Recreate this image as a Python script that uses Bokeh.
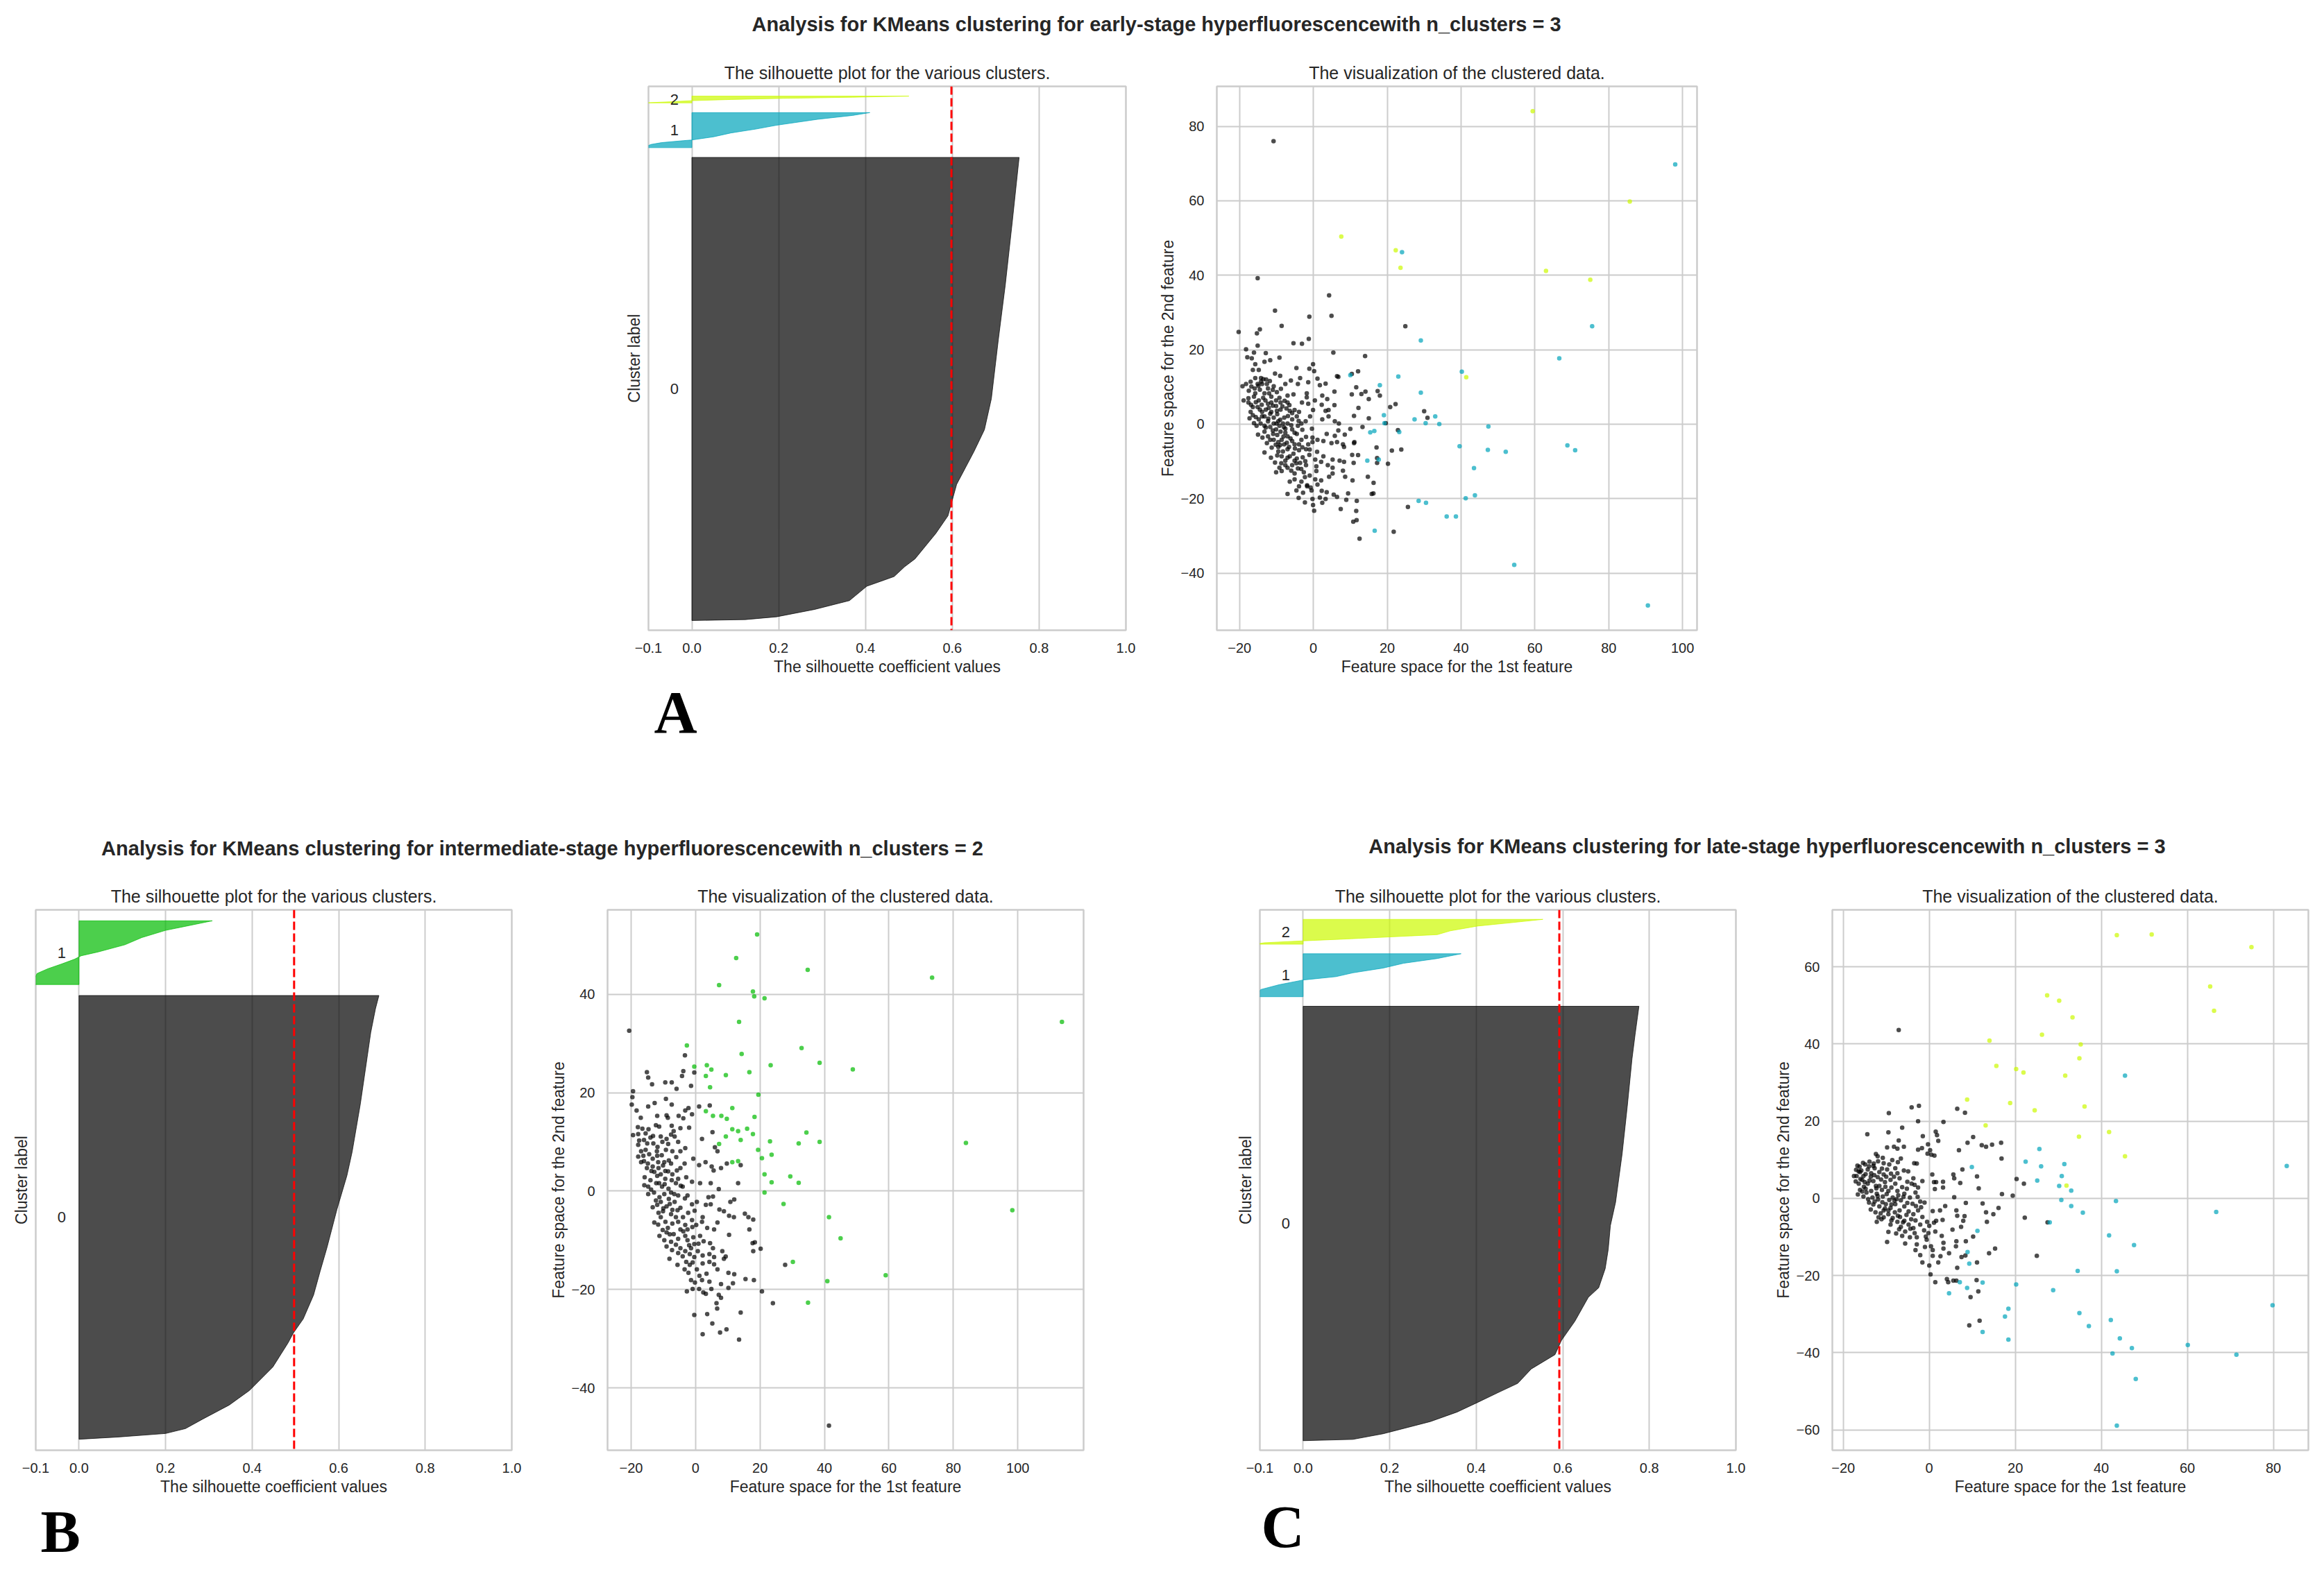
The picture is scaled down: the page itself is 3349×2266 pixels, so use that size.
from bokeh.plotting import figure
from bokeh.models import Range1d, FixedTicker, Label, Span, Spacer, CustomJSTickFormatter, Title
from bokeh.layouts import row, column
from bokeh.embed import file_html
from bokeh.resources import INLINE
from bokeh.core.properties import value

FONT = "Liberation Sans"
SERIF = "Liberation Serif"
TXT = "#262626"
GRID = "#cccccc"

SUPTITLE_A = "Analysis for KMeans clustering for early-stage hyperfluorescencewith n_clusters = 3"
SUPTITLE_B = "Analysis for KMeans clustering for intermediate-stage hyperfluorescencewith n_clusters = 2"
SUPTITLE_C = "Analysis for KMeans clustering for late-stage hyperfluorescencewith n_clusters = 3"
SUB_SIL = "The silhouette plot for the various clusters."
SUB_SC = "The visualization of the clustered data."
XLAB_SIL = "The silhouette coefficient values"
YLAB_SIL = "Cluster label"
XLAB_SC = "Feature space for the 1st feature"
YLAB_SC = "Feature space for the 2nd feature"
PANEL_LETTERS = ["A", "B", "C"]

# cluster colours (nipy_spectral)
COL3 = ["#000000", "#00a4bb", "#ccf900"]
COL2 = ["#000000", "#00bb00"]

SIL_TICKS = [-0.1, 0.0, 0.2, 0.4, 0.6, 0.8, 1.0]

# ---------------- silhouette data (rank fraction within cluster, value) -------------
sil_a_sizes = [476, 36, 7]
sil_a_avg = 0.598
sil_a0_rank = [0, 0.002, 0.008, 0.024, 0.043, 0.074, 0.095, 0.116, 0.133, 0.188, 0.226, 0.294, 0.365, 0.412, 0.479, 0.606, 0.724, 0.859, 1.0]
sil_a0_val = [0.0, 0.123, 0.195, 0.283, 0.363, 0.403, 0.466, 0.49, 0.514, 0.562, 0.59, 0.61, 0.65, 0.674, 0.69, 0.706, 0.722, 0.738, 0.754]
sil_a1_rank = [0, 0.09, 0.144, 0.2, 0.22, 0.31, 0.42, 0.53, 0.64, 0.81, 0.92, 1.0]
sil_a1_val = [-0.11, -0.095, -0.07, -0.02, 0.0, 0.05, 0.09, 0.147, 0.195, 0.29, 0.37, 0.41]
sil_a2_rank = [0, 0.17, 0.33, 0.5, 0.67, 0.83, 1.0]
sil_a2_val = [-0.11, -0.05, 0.0, 0.09, 0.21, 0.37, 0.50]

sil_b_sizes = [404, 58]
sil_b_avg = 0.497
sil_b0_rank = [0, 0.005, 0.013, 0.024, 0.045, 0.077, 0.11, 0.163, 0.217, 0.239, 0.271, 0.325, 0.378, 0.432, 0.518, 0.594, 0.647, 0.755, 0.862, 0.916, 0.97, 1.0]
sil_b0_val = [0.0, 0.09, 0.20, 0.246, 0.285, 0.347, 0.394, 0.448, 0.483, 0.495, 0.518, 0.542, 0.557, 0.573, 0.596, 0.619, 0.631, 0.65, 0.666, 0.674, 0.685, 0.693]
sil_b1_rank = [0, 0.173, 0.248, 0.323, 0.398, 0.451, 0.511, 0.624, 0.737, 0.85, 0.925, 1.0]
sil_b1_val = [-0.11, -0.097, -0.072, -0.04, -0.01, 0.005, 0.044, 0.106, 0.145, 0.2, 0.254, 0.308]

sil_c_sizes = [455, 45, 26]
sil_c_avg = 0.592
sil_c0_rank = [0, 0.003, 0.016, 0.044, 0.066, 0.088, 0.11, 0.132, 0.165, 0.198, 0.231, 0.275, 0.33, 0.352, 0.396, 0.44, 0.495, 0.549, 0.659, 0.769, 0.879, 0.934, 1.0]
sil_c0_val = [0.0, 0.115, 0.185, 0.294, 0.356, 0.403, 0.449, 0.496, 0.527, 0.582, 0.597, 0.628, 0.659, 0.683, 0.698, 0.705, 0.71, 0.722, 0.737, 0.749, 0.76, 0.767, 0.776]
sil_c1_rank = [0, 0.167, 0.278, 0.389, 0.467, 0.556, 0.667, 0.778, 0.889, 1.0]
sil_c1_val = [-0.11, -0.098, -0.056, 0.0, 0.076, 0.115, 0.185, 0.232, 0.31, 0.365]
sil_c2_rank = [0, 0.058, 0.135, 0.192, 0.288, 0.385, 0.538, 0.731, 0.865, 1.0]
sil_c2_val = [-0.11, -0.09, 0.0, 0.076, 0.193, 0.31, 0.34, 0.403, 0.48, 0.554]

# ---------------- scatter data -------------
a_black = [
(-15.1,39.2),(4.25,34.6),(-10.4,30.5),(-1.1,28.9),(4.9,29.1),(-8.6,26.4),(-20.25,24.8),(-14.5,25.5),(-15.3,24.4),(24.9,26.3),
(-1.25,22.9),(-5.4,21.75),(-3.1,21.6),(-15.1,21.1),(-18.25,20.1),(-16.1,19.25),(-12.9,19.1),(-9.2,17.9),(-17.9,18),(-16.7,17.7),
(-13.25,16.75),(-11.7,17.2),(-15.75,16.1),(5.4,19.25),(14,18.3),(-16.4,14.6),(-14.8,14.6),(-4.6,15.1),(-1.1,14.9),(-0.1,16.1),
(0.2,14.25),(-10.4,13.6),(-9,13),(-15.75,12.4),(-13.6,12.1),(-3.6,12.4),(1.1,12.25),(6.4,12.9),(6.75,12.7),(12.1,14.2),
(10.4,13.5),(-19.2,10.2),(-18.25,10.8),(-17,11.4),(-14.2,11.4),(-12.6,10.8),(-10.75,10.2),(-7.6,10.8),(-6.1,11.75),(-4.2,10.8),
(-1.4,11.25),(1.75,10.5),(3.3,10.9),(11.6,9.9),(14.1,8.75),(17.4,8.9),(18,7.7),
(-18.9,6.4),(-17.6,5.8),(-16.1,7.4),(-14.8,6.4),(-13.25,8.3),(-11.4,7.4),(-9.2,7.1),(-7,7.7),(-5.4,8),(-1.8,8.3),(-1.8,7.2),
(0.4,6.4),(2.4,7.7),(3.75,6.75),(5.7,8.75),(10.4,8),(13,8.1),(15,6.75),
(-16.4,4.6),(-14.5,3.9),(-12.3,5.5),(-10.1,4.9),(-8.9,5.8),(-7.3,4.25),(-6.4,3.6),(-5.1,3.8),(-3.1,5.8),(-1.4,5.5),(-0.1,3.8),
(2.25,5.2),(3.3,3.6),(4.1,3.8),(5.7,5.1),(12.2,4.4),(20.8,4.6),(22.25,5.4),(30,3.5),(30.9,1.7),(19.6,0.3),
(-16.4,2.4),(-16.1,0.3),(-14.8,1.3),(-13.25,2.1),(-11.7,2.8),(-10.75,1.75),(-9.5,0.8),(-7.9,1.75),(-5.75,1.3),(-4.5,2.1),
(-3.25,0.2),(-2.1,0.8),(-0.9,2.1),(2.4,1.3),(4.1,2.1),(5.8,0.8),(6.9,0.2),(11,2.25),(15,1.6),(13.3,-0.75),
(-15,-2.8),(-13.25,-2),(-12.3,-3.25),(-11,-1.7),(-9.8,-2.9),(-8.6,-4.2),(-7.6,-1.2),(-7,-3.25),(-5.75,-4.5),(-4.5,-2.6),
(-3.25,-4.2),(-0.4,-1.2),(-0.25,-3.6),(-0.25,-4.8),(1.1,-4.2),(2.7,-4.5),(3.6,-2.6),(4.9,-5.1),(5.8,-3.1),(6.4,-4.8),
(6.75,-1.7),(8.5,-2.8),(8,-5.4),(10,-1.25),(11,-5.1),(11.1,-4.8),(8.3,-6.1),(22.9,-1.6),(17.1,-6.25),(21.25,-7.1),(23.8,-6.8),
(-13.25,-7.6),(-11.5,-9),(-10.4,-10.3),(-9.5,-7.3),(-8.6,-8.6),(-7.6,-9.8),(-7,-6.7),(-5.4,-7.9),(-5.1,-9.8),(-3.9,-7),
(-2.9,-8.9),(-2,-11),(-1.1,-8.25),(0.5,-9.5),(2.1,-10.1),(2.7,-8.6),(3.9,-11),(5.2,-9.5),(5.2,-11.7),(7.1,-9.8),
(8.3,-10.1),(10.5,-8.25),(12.1,-8.3),(10.9,-10.4),(17.25,-9.1),(17.25,-10.4),(20.2,-10.6),
(-10.1,-12.9),(-8.6,-12.6),(-7,-11.7),(-6.4,-15.4),(-5.1,-14.8),(-3.9,-16.7),(-2.3,-14.2),(-1.7,-16.4),(-0.75,-17),(0.5,-14.8),
(0.8,-12.6),(2.1,-15.1),(2.25,-17.9),(4.25,-14.1),(5.2,-13.25),(3.6,-18.25),(5.5,-18.9),(6.4,-19.5),(-7,-18.75),(-4,-19.8),
(-2.3,-21),(-0.25,-20.1),(-0.1,-21.7),(0.2,-23.25),(1.75,-19.7),(2.4,-21.1),(3.3,-20.1),(7.4,-22.8),(8.9,-20.3),(9.4,-18.6),
(8.6,-14.1),(10.6,-15.1),(14.75,-14.1),(16.3,-15.75),(8,-12.5),(11.75,-20.6),(11.6,-23.3),(11.7,-25.75),(10.8,-26.2),(12.5,-30.75),
(15.8,-18.75),(16.25,-18.6),(21.75,-28.9),(25.6,-22.2),(-10.8,76),
(-14.2,12.4),(-12.3,9.6),(-14.5,9.25),(-15.75,8.3),(-13.6,7.1),(-11.4,5.8),(-10.1,6.4),(-12.9,3.9),(-11.4,3.3),(-9.8,2.7),
(-8.9,3.9),(-12.3,0.8),(-10.75,0.2),(-9.2,-0.4),(-8.25,0.2),(-7,0.2),(-11.7,-0.75),(-10.1,-1.4),(-8.9,-2),(-7.6,-2.3),
(-5.75,-1.4),(-4.2,-0.4),(-10.75,-4.2),(-9.5,-4.8),(-7.9,-5.4),(-6.6,-6.1),(-5.1,-5.4),(-3.9,-5.4),(-8.25,-7.3),(-6.4,-8.6),
(-4.5,-9.2),(-3.6,-10.4),(-5.75,-11),(-4.2,-11.9),(-2.6,-12.9),(-5.1,-13.25),(-3.25,-15.4),(-1.7,-16.7),(-7.6,-11),(-9.2,-11.7),
(-2,-6.7),(-1.4,-5.4),(-15.1,4.6),(-13.9,3.3),(-17,3.3),(-17.6,7),(-15.1,10.8),(-12,8.3),(-7,5.8),(-5.75,3),
(-3.9,3.3),(-13.25,-0.4),(-13.9,2.1),(-15.4,-0.4),(-11.7,-4.2),(-9.5,-6.1),
(-17.5,9.0),(-16.8,10.1),(-15.9,9.6),(-14.9,10.3),(-13.9,10.8),(-12.8,12.0),(-11.8,11.6),(-11.0,9.2),(-9.9,8.6),(-8.8,9.5),
(-16.9,5.2),(-15.6,5.9),(-14.0,5.2),(-13.0,6.4),(-12.1,4.4),(-11.0,5.0),(-9.9,3.6),(-8.4,4.8),(-7.8,6.3),(-6.5,5.1),
(-17.3,1.6),(-15.6,1.9),(-14.3,0.2),(-12.9,-0.9),(-12.2,1.5),(-10.9,-2.6),(-10.0,0.2),(-9.0,1.2),(-8.0,-0.8),(-6.9,2.2),
(-6.0,-0.3),(-5.1,-2.3),(-4.0,0.9),(-3.0,-1.5),(-13.8,-3.6),(-12.6,-5.1),(-11.3,-6.3),(-10.2,-5.5),(-9.0,-5.6),(-8.1,-3.3),
(-7.2,-5.0),(-6.2,-3.8),(-5.0,-6.5),(-3.0,-6.2),(-2.0,-3.4),(-1.0,-6.8),(-9.8,-8.4),(-8.7,-10.5),(-7.0,-9.0),(-6.0,-12.5),
(-4.6,-10.5),(-3.3,-12.0),(-2.2,-9.9),(-1.0,-13.8),(0.8,-11.3),(-0.5,-17.8),(1.1,-16.2),(-4.6,-17.8),(-2.8,-18.4),(1.0,-7.4)]
a_cyan = [
(10,13.2),(18,10.5),(23,12.8),(29.1,22.5),(29.1,8.5),(40.2,14.1),(33,2.1),(34.1,0.06),(30.4,0.3),(27.4,1.3),
(19.1,2.4),(19.25,0.3),(47.4,-0.6),(15.4,-2.2),(16.5,-1.8),(23.25,-2.1),(39.6,-5.9),(47.25,-6.9),(52.1,-7.4),(14.6,-9.8),
(17.7,-9.5),(43.5,-11.8),(16.6,-28.6),(28.5,-20.6),(30.5,-21.1),(36.1,-24.8),(38.6,-24.8),(41.25,-19.9),(43.75,-19.1),(54.4,-37.8),
(68.8,-5.7),(70.9,-7),(75.5,26.3),(66.6,17.7),(98,69.8),(90.6,-48.7),(24,46.2)]
a_yellow = [(7.55,50.4),(22.3,46.7),(23.6,42),(59.4,84.1),(85.7,59.8),(63,41.2),(75,38.8),(41.4,12.6)]

b_black = [
(-20.6,32.6),(-3.3,27.6),(-15.1,24.2),(-14.7,23.1),(-13.5,21.7),(-9.4,22.1),(-7.4,22.1),(-5.9,20.8),(-3.8,24.4),(-4.2,23.4),
(-1.4,21.4),(-0.4,24.1),(-19.4,20.3),(-19.6,19.1),(-19.8,17.6),(-18.3,16.4),(-17,14.9),(-14.7,17.2),(-12.7,17.9),(-9.2,18.75),
(-7.4,17.6),(-11.9,15.3),(-9,15.4),(-8.6,14.9),(-5.25,15.3),(-3.8,14.8),(-3.2,16.4),(-2.2,16.9),(-1.1,15.6),(1.1,17.2),
(4.4,17.4),(-2,12.9),(2,10.6),(5.25,12),(6,8.9),(6.8,8.1),(-19.4,11.4),(-17.8,11.6),(-15.5,11.75),(-17.5,10.3),
(-17.8,9.4),(-15,9.7),(-13.1,9.7),(-11.3,13.1),(-10.8,11.1),(-10.3,10),(-7.4,13.3),(-6.8,12.2),(-6.5,11.1),(-5.4,10),
(-4.7,8.1),(-3.2,8.75),(-16.9,8.1),(-15.5,8.4),(-14.4,7.5),(-13.3,6.6),(-11.9,7.2),(-9.7,5.9),(-8.3,6.25),(-16.9,5.9),
(-15.1,4.7),(-13.3,5),(-11.5,4.7),(-9.4,4.1),(-7.2,3.4),(-4.7,4.7),(-3.4,5.6),(-0.7,6.6),(1.1,5.3),(3.1,5.9),
(5,5),(5.6,4.2),(7.9,4.7),(9.7,5.6),(14,5.3),(-15.8,2.8),(-14,2.2),(-11.9,3.1),(-9.4,2.5),(-7.4,2.2),
(-5.4,2.5),(-2.9,2.8),(-1.1,1.9),(1.4,1.6),(4.7,1.6),(7.2,0.4),(13.2,1.6),(-14.7,-0.6),(-12.9,-0.3),(-11.2,-1.25),
(-9.7,-0.6),(-7.6,-0.3),(-5.4,-0.9),(-13.3,-3.3),(-11.9,-2.8),(-10.8,-2.2),(-9,-3.1),(-6.5,-2.2),(-4.7,-3.4),(-1.1,-2.7),
(0.4,-2.2),(3.2,-2.8),(4.7,-2.7),(4,-1.25),(5.4,-1.1),(7.4,-3.75),(8.8,-4.1),(10.8,-2.2),(12,-1.7),(10.4,-5),
(11.9,-5.3),(15.3,-4.6),(16.4,-5.3),(17.9,-5.8),(-12.8,-6.4),(-10.8,-5.3),(-9.35,-6.25),(-8.6,-7.5),(-7.2,-6.6),(-5.4,-6.25),
(-3.2,-6.9),(-2.5,-7.8),(-1.1,-5.9),(0.2,-6.9),(2,-6.25),(3.6,-7.5),(5.75,-7.8),(6.8,-6.4),(10.4,-8.9),(16.7,-7.8),
(-11.2,-9.1),(-9.7,-10),(-9,-11.25),(-7.6,-10.3),(-5.4,-9.7),(-4.7,-11.6),(-2.5,-10),(-0.7,-9.4),(-0.4,-10.75),(2.5,-10.2),
(4.5,-10.6),(5.4,-11.6),(-8.1,-13.75),(-4,-13.25),(-3.2,-12.2),(-1.8,-12.8),(0.7,-12.2),(2.2,-13.1),(4.3,-12.8),(5.75,-13.4),
(8.3,-12.2),(9.35,-13.3),(17.9,-12.2),(17.7,-10.6),(18.4,-10.4),(20.2,-11.7),(-3.4,-15.9),(-1.8,-15),(0.4,-15.9),(2.2,-14.7),
(4.3,-14.4),(5.75,-14.9),(6.8,-15.9),(8.8,-13.75),(10.2,-16.6),(12,-16.9),(27.8,-15),(-1.4,-18.1),(-0.2,-18.6),(2,-18.1),
(4.3,-18.4),(7.9,-18.9),(11.6,-18.75),(15.5,-17.9),(18.1,-18.1),(-2.7,-20.4),(-0.9,-19.9),(1.1,-19.9),(2.4,-20.6),(3.2,-20.9),
(4.9,-19.9),(7.2,-21.1),(7.9,-21.7),(10.2,-19.7),(20.6,-20.4),(6.5,-22.8),(6.7,-23.9),(24,-22.8),(-0.4,-25.2),(3.6,-25),
(14,-24.7),(5.2,-26.9),(2.2,-29.1),(7.6,-28.75),(9.6,-28.1),(13.5,-30.2),(41.4,-47.7),
(-16.2,7.2),(-13.7,4.1),(-12.2,1.6),(-10.4,0.9),(-8.3,-1.6),(-10.1,-4.1),(-7.6,-4.7),(-6.1,-5.3),(-4.7,-7.8),(-6.8,-8.75),
(-3.2,-9.1),(-1.4,-11.6),(-0.4,-13.4),(-2.2,-16.6),(-10.8,3.4),(-6.1,1.6),(-4,0.9),(-2.5,-0.9),(-14.7,0.9),(-12,8.1),
(-9.2,8.4),(-7.2,8.1),(-14,10.9),(-9,10.6),(-4.7,12.8),(-11.5,-4.4),(-9,-8.4),(-6.1,-10.9),(1.4,-9.1),(2.2,-5.3),
(-17.9,13.0),(-16.5,12.7),(-16.0,10.4),(-14.6,12.6),(-13.2,11.2),(-12.3,13.4),(-11.8,9.0),(-10.5,7.3),(-8.5,9.6),(-7.6,11.5),
(-17.8,7.0),(-16.0,6.1),(-14.8,5.6),(-12.8,3.9),(-11.6,5.9),(-10.1,5.2),(-8.5,4.0),(-7.6,5.6),(-6.0,6.9),(-5.8,4.2),
(-15.9,1.2),(-13.8,0.3),(-11.3,1.6),(-9.6,1.4),(-8.4,0.5),(-6.6,-0.6),(-4.6,1.1),(-3.3,-1.5),(-12.3,-1.9),(-10.0,-3.5),
(-8.0,-2.6),(-7.2,-3.8),(-5.6,-3.9),(-3.9,-5.3),(-2.3,-4.4),(-0.3,-4.0),(-11.6,-6.8),(-10.2,-7.9),(-8.0,-8.8),(-7.3,-12.0),
(-5.4,-12.6),(-3.8,-8.2),(-2.0,-11.0),(-1.0,-7.3),(0.9,-10.7),(-2.9,-14.4),(-0.9,-14.5),(1.2,-17.2),(-5.6,-15.0),(3.4,-16.8)]
b_green = [
(7.3,41.9),(17.8,40.6),(18.2,39.6),(21.4,39.2),(13.5,34.4),(-2.7,29.6),(32.9,29.1),(14.3,27.9),(-0.4,25.3),(3.5,25.6),
(4.9,24.7),(3.2,23.4),(9.4,23.6),(16.7,24.2),(23.3,25.6),(38.5,26.1),(48.8,24.75),(4.5,21.1),(19.5,19.6),(3.2,16.25),
(5.4,15.3),(8,15.3),(9.7,14.7),(11.4,16.9),(18.3,15.1),(11.4,12.6),(13.2,12.2),(16,12.7),(17.8,11.6),(9.4,11.1),
(7.3,9.6),(14,10.4),(23.1,10.1),(34.4,11.9),(32,9.7),(38.5,10),(19.4,8.4),(20.6,6.7),(23.6,7.4),(11.4,5.9),
(13.2,6.1),(21.4,3.4),(23.6,1.8),(29.4,3),(32,1.7),(21.4,-0.3),(27.3,-2.6),(41.4,-5.3),(45,-9.6),(30.2,-14.4),
(40.9,-18.3),(34.9,-22.7),(19.1,52.2),(12.6,47.4),(34.8,45),(73.4,43.4),(113.7,34.4),(83.9,9.8),(98.3,-3.9),(59,-17.1)]

c_black = [
(-7.1,43.6),(-4.1,23.6),(-2.4,24),(-9.4,22.1),(-2.6,20),(3.3,19.8),(6.5,23.2),(8.3,22.2),(-6.3,18.3),(-14.4,16.6),
(-9.5,17.1),(-1.5,16.1),(1.5,17.3),(1.8,16.4),(2.1,14.9),(-7.1,15),(-9.8,13.2),(-8.2,13.4),(-7.4,12.9),(-5.9,13.4),
(-2.6,12.6),(-1.7,13),(-0.3,14),(0.2,12.5),(0.5,11.3),(-0.4,11.6),(1.2,11.1),(6.9,12.5),(8.9,14.4),(10.2,15.9),
(12.2,13.8),(14.6,13.9),(13.2,13.4),(16.7,14.4),(16.8,10.3),(-3.5,9.1),(-2.9,9),(-6.6,10.3),(-10.8,10.5),(-12.4,11.5),
(-12,10.9),(-10.6,9.1),(-16.7,8.5),(7.7,7.5),(5.6,6.2),(5.8,5.2),(7.2,4),(11.1,5.7),(11.5,2.6),(0.7,6.2),
(1.1,4.2),(1.6,4.2),(1.3,2.4),(3.2,4.3),(3.2,2.8),(-1.6,4.5),(-3.4,3.5),(-5.1,4.3),(-6.9,5.2),(-5.9,7.2),
(-4.9,7),(20.3,5),(22,3.8),(19.4,0.7),(16.9,1.1),(5.8,0.3),(8.5,-1.2),(12.4,-1.3),(16.1,-2.5),(13.2,-3.6),
(14.9,-4.1),(13.4,-6.1),(22.2,-5),(27.5,-6.2),(3.7,-2),(2.5,-3.1),(0.8,-3.3),(6.3,-3.1),(6.5,-4.5),(8.2,-4.6),
(7.9,-5.8),(3.1,-5.6),(1.6,-5.8),(1.1,-6.3),(0,-7.1),(7.4,-7.4),(5.4,-8.1),(1.4,-8.6),(10.2,-9.9),(2.9,-9.7),
(8.5,-11.1),(6.3,-11.1),(6.2,-12.4),(3.3,-11.5),(3.3,-13),(15.3,-13),(13.9,-14.2),(4.6,-14.2),(2.6,-15),(0.8,-14.9),
(0.8,-13.4),(0.4,-12.4),(-1,-12.6),(-0.6,-10.7),(-0.8,-9.9),(-2.9,-10.1),(-2.9,-11.9),(-3.2,-13.4),(-2.1,-14.7),(-1.6,-16.6),
(0,-17.4),(2.1,-16.6),(7.5,-15.2),(8.4,-14.8),(11.1,-16.6),(6.5,-18),(25,-14.9),(0.3,-19.7),(1.4,-21.7),(4.1,-20.9),
(4.4,-21.7),(5.6,-21.3),(6.3,-21.3),(11,-21.2),(11.4,-24.1),(9.6,-25.6),(11.7,-31.7),(9.3,-32.9),(-9.8,-11.3),(-12.2,-6.1),
(-9.5,-8.7),(-7.7,-9.1),(-6.3,-9.7),(-5.6,-11.7),(-4.5,-10.1),(-6.6,-7.4),(-9,-6.8),(-9.5,-4.1),(-10.6,-3.1),(-11.6,-2.1),
(-12.7,-0.8),(-14,-1.1),(-15.3,0.5),(-16.1,2.2),(-16.4,3.8),(-16.9,5.8),(-16.1,6.8),(-15.3,5.8),(-14.3,7.5),(-13.5,6.5),
(-12.7,7.8),(-11.6,6.8),(-10.6,6.2),(-14.3,3.8),(-13,4.5),(-11.6,3.2),(-10.3,4.2),(-9,4.8),(-7.9,3.8),(-13.5,1.9),
(-12.2,1.2),(-10.8,0.5),(-9.5,1.9),(-8.5,0.2),(-7.4,1.9),(-6.6,-0.5),(-5.8,1.2),(-4.5,0.2),(-3.2,1.5),(-2.1,-0.8),
(-1.1,-1.1),(-10.1,-1.5),(-9,-2.5),(-7.9,-1.5),(-6.9,-3.1),(-5.8,-2.1),(-4.8,-3.4),(-3.7,-4.1),(-2.6,-3.1),(-1.6,-4.8),
(-0.5,-6.1),(-8.5,-5.1),(-7.4,-6.1),(-5.8,-5.8),(-4.8,-6.8),(-3.7,-7.7),(-2.1,-6.8),(-11.1,-5.4),(-12.4,3.2),(-14.8,2.5),
(-15.6,4.8),(-9.8,7.5),(-7.9,7.8),(-3.7,5.2),(-2.6,2.8),(-17.5,5.8),
(-15.8,7.2),(-14.9,8.8),(-13.9,9.5),(-12.9,9.0),(-15.2,3.0),(-14.6,1.5),(-13.2,0.2),(-11.9,-0.3),(-11.0,2.2),(-10.2,3.0),
(-9.3,-0.4),(-8.1,-0.6),(-8.8,2.8),(-7.2,0.8),(-6.3,2.9),(-5.1,-1.2),(-12.0,5.5),(-13.6,5.6),(-16.4,7.0),(-15.0,4.2),
(-8.2,5.6),(-6.8,-4.8),(-10.3,-2.6),(-11.3,-3.9),(-8.0,-3.6),(-3.1,-2.0),(-4.2,-5.4),(-7.0,-8.0),
(-17.0,7.4),(-16.2,8.2),(-15.4,9.2),(-14.0,8.3),(-13.0,8.4),(-11.9,9.6),(-11.0,7.7),(-9.3,8.8),(-8.6,9.9),(-7.3,9.4),
(-17.1,4.4),(-16.0,5.0),(-14.8,6.3),(-13.9,4.6),(-12.8,6.0),(-12.3,2.6),(-11.2,4.9),(-10.0,5.6),(-8.9,6.4),(-7.4,6.5),
(-16.6,1.0),(-15.6,1.8),(-14.2,-0.2),(-13.0,-1.6),(-12.0,0.6),(-10.9,-1.0),(-9.9,1.1),(-8.8,-1.6),(-7.6,-0.2),(-6.0,0.4),
(-5.2,2.5),(-4.1,3.8),(-3.9,-1.4),(-2.7,0.4),(-13.6,-2.9),(-12.5,-3.6),(-11.8,-4.9),(-10.6,-4.9),(-9.5,-3.1),(-8.8,-5.7),
(-7.3,-4.5),(-6.1,-6.2),(-5.3,-4.3),(-4.4,-7.9),(-3.2,-5.7),(-1.2,-8.3),(-0.2,-9.0),(-5.6,-8.6),(-3.4,-9.0),(-1.9,-2.3)]
c_cyan = [
(25.6,12.8),(22.4,9.5),(26,8.3),(31.4,8.9),(30.8,5.8),(25.1,4.6),(30.2,3.2),(33,2),(30.7,-0.4),(33,-2),
(35.7,-3.7),(28,-6.2),(9.9,8.1),(11.2,-8.4),(8.9,-13.9),(9.3,-16.9),(7.1,-21.7),(4.6,-24.6),(8.8,-23.2),(12.4,-21.8),
(20.2,-22.3),(28.8,-23.8),(34.5,-18.8),(18.4,-28.6),(17.6,-30.6),(34.9,-29.7),(37.1,-33.1),(45.5,31.8),(83.1,8.4),(66.7,-3.5),
(43.4,-0.7),(47.6,-12.1),(41.8,-9.6),(43.6,-18.9),(42.2,-31.5),(44.3,-36.3),(47.1,-38.8),(42.6,-40.2),(48,-46.8),(43.6,-58.9),
(60.1,-38),(71.4,-40.5),(79.8,-27.7),(18.4,-36.6),(12.4,-34.6)]
c_yellow = [
(27.4,52.6),(30.2,51.2),(33.3,46.9),(26.2,42.4),(35.2,39.9),(34.9,36.3),(14,40.9),(15.6,34.3),(20.2,33.5),(21.9,32.6),
(31.6,31.8),(8.8,25.6),(18.8,24.7),(24.5,22.8),(36.1,23.8),(13.1,18.9),(34.8,16),(31.9,3.3),(43.6,68.2),(51.7,68.4),
(74.9,65.1),(65.3,54.9),(66.2,48.6),(41.8,17.2),(45.5,10.9)]

a_xticks = [-20, 0, 20, 40, 60, 80, 100]
a_yticks = [-40, -20, 0, 20, 40, 60, 80]
b_xticks = [-20, 0, 20, 40, 60, 80, 100]
b_yticks = [-40, -20, 0, 20, 40]
c_xticks = [-20, 0, 20, 40, 60, 80]
c_yticks = [-60, -40, -20, 0, 20, 40, 60]


def base_fig(w, h, bl, br, bt, bb, xr, yr, title):
    p = figure(width=w, height=h, x_range=Range1d(*xr), y_range=Range1d(*yr),
               min_border_left=bl, min_border_right=br, min_border_top=bt, min_border_bottom=bb,
               output_backend="svg", toolbar_location=None, title=title)
    p.title.align = "center"
    p.title.text_font = FONT
    p.title.text_font_size = "25px"
    p.title.text_font_style = "normal"
    p.title.text_color = TXT
    p.title.standoff = 11
    p.outline_line_color = GRID
    p.outline_line_width = 2.5
    p.grid.grid_line_color = GRID
    p.grid.grid_line_width = 2
    for ax in p.axis:
        ax.axis_line_color = None
        ax.major_tick_line_color = None
        ax.minor_tick_line_color = None
        ax.major_label_text_font = FONT
        ax.major_label_text_font_size = "20px"
        ax.major_label_text_color = TXT
        ax.axis_label_text_font = FONT
        ax.axis_label_text_font_size = "23px"
        ax.axis_label_text_font_style = "normal"
        ax.axis_label_text_color = TXT
        ax.major_label_standoff = 12
        ax.axis_label_standoff = 4
    return p


def sil_fig(w, h, bl, br, bt, bb, sizes, ranks, vals, colors, avg, letter=None):
    top = sum(sizes) + 10 * (len(sizes) + 1)
    xr, yr = (-0.1, 1.0), (0, top)
    p = base_fig(w, h, bl, br, bt, bb, xr, yr, SUB_SIL)
    p.xaxis.ticker = FixedTicker(ticks=SIL_TICKS)
    p.xaxis.formatter = CustomJSTickFormatter(code="return tick.toFixed(1).replace('-', '\\u2212');")
    p.yaxis.ticker = FixedTicker(ticks=[])
    p.yaxis.major_label_standoff = 0
    p.yaxis.axis_label_standoff = 8
    p.ygrid.visible = False
    p.xaxis.axis_label = XLAB_SIL
    p.yaxis.axis_label = YLAB_SIL
    y_lower = 10
    lx, ly, lt = [], [], []
    for i, (n, r, v, c) in enumerate(zip(sizes, ranks, vals, colors)):
        ys = [y_lower] + [y_lower + f * n for f in r] + [y_lower + n]
        xs = [0.0] + list(v) + [0.0]
        p.patch(xs, ys, fill_color=c, fill_alpha=0.7, line_color=c, line_alpha=0.7, line_width=1)
        lx.append(-0.05)
        ly.append(y_lower + 0.5 * n)
        lt.append(str(i))
        y_lower += n + 10
    p.text(x=lx, y=ly, text=lt, text_font=value(FONT), text_font_size="22px",
           text_color=TXT, text_align="left", text_baseline="alphabetic")
    p.add_layout(Span(location=avg, dimension="height", line_color="red",
                      line_dash="12 5", line_width=3))
    if letter is not None:
        txt, offset, standoff = letter
        p.add_layout(Title(text=txt, align="left", offset=offset, standoff=standoff,
                           vertical_align="top", text_font=SERIF, text_font_size="86px",
                           text_font_style="bold", text_color="#000000"), "below")
    return p


def sc_fig(w, h, bl, br, bt, bb, groups, xticks, yticks):
    allx = [pt[0] for g, c in groups for pt in g]
    ally = [pt[1] for g, c in groups for pt in g]
    sx = max(allx) - min(allx)
    sy = max(ally) - min(ally)
    xr = (min(allx) - 0.05 * sx, max(allx) + 0.05 * sx)
    yr = (min(ally) - 0.05 * sy, max(ally) + 0.05 * sy)
    p = base_fig(w, h, bl, br, bt, bb, xr, yr, SUB_SC)
    p.xaxis.ticker = FixedTicker(ticks=xticks)
    p.yaxis.ticker = FixedTicker(ticks=yticks)
    fmt = "return tick.toFixed(0).replace('-', '\\u2212');"
    p.xaxis.formatter = CustomJSTickFormatter(code=fmt)
    p.yaxis.formatter = CustomJSTickFormatter(code=fmt)
    p.xaxis.axis_label = XLAB_SC
    p.yaxis.axis_label = YLAB_SC
    p.yaxis.axis_label_standoff = 3
    for pts, col in groups:
        p.scatter(x=[q[0] for q in pts], y=[q[1] for q in pts], size=6.5, marker="circle",
                  fill_color=col, fill_alpha=0.7, line_color=None)
    return p


def text_fig(w, h, items):
    p = figure(width=w, height=h, x_range=Range1d(0, w), y_range=Range1d(h, 0),
               min_border=0, output_backend="svg", toolbar_location=None,
               x_axis_location=None, y_axis_location=None)
    p.grid.visible = False
    p.outline_line_color = None
    for (x, y, t) in items:
        p.add_layout(Label(x=x, y=y, text=t, text_align="center", text_baseline="middle",
                           text_font_size="29px", text_font_style="bold", text_font=FONT,
                           text_color=TXT))
    return p


# ---------- rows ----------
row0 = text_fig(3341, 70, [(1666, 34, SUPTITLE_A)])

silA = sil_fig(800, 1010, 74, 38, 54, 172, sil_a_sizes,
               [sil_a0_rank, sil_a1_rank, sil_a2_rank], [sil_a0_val, sil_a1_val, sil_a2_val],
               COL3, sil_a_avg, letter=(PANEL_LETTERS[0], 8, 4))
scA = sc_fig(820, 1010, 93, 35, 54, 172,
             [(a_black, COL3[0]), (a_cyan, COL3[1]), (a_yellow, COL3[2])], a_xticks, a_yticks)
row1 = row(Spacer(width=860, height=1010), silA, scA)

row2 = text_fig(3341, 170, [(781, 142, SUPTITLE_B), (2546, 139, SUPTITLE_C)])

silB = sil_fig(770, 1008, 51, 33, 61, 164, sil_b_sizes,
               [sil_b0_rank, sil_b1_rank], [sil_b0_val, sil_b1_val], COL2, sil_b_avg,
               letter=(PANEL_LETTERS[1], 7, 2))
scB = sc_fig(850, 1008, 105, 59, 61, 164,
             [(b_black, COL2[0]), (b_green, COL2[1])], b_xticks, b_yticks)
silC = sil_fig(910, 1008, 195, 29, 61, 164, sil_c_sizes,
               [sil_c0_rank, sil_c1_rank, sil_c2_rank], [sil_c0_val, sil_c1_val, sil_c2_val],
               COL3, sil_c_avg, letter=(PANEL_LETTERS[2], 2, -12))
scC = sc_fig(811, 1008, 110, 15, 61, 164,
             [(c_black, COL3[0]), (c_cyan, COL3[1]), (c_yellow, COL3[2])], c_xticks, c_yticks)
row3 = row(silB, scB, silC, scC)

layout = column(row0, row1, row2, row3)

open("out.html", "w").write(file_html(layout, INLINE))
